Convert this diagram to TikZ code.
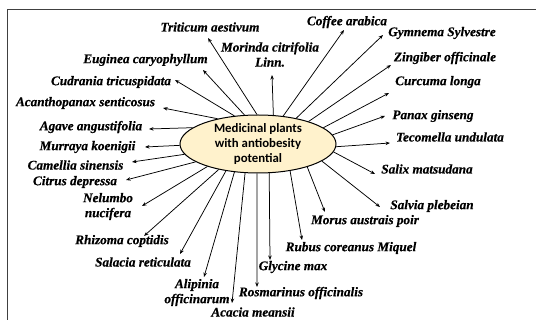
\documentclass[tikz,border=0pt]{standalone}
\usepackage{fontspec}
\setmainfont{Liberation Serif}
\newfontfamily\labfont{Liberation Serif Bold Italic}[FakeBold=0.5]
\newfontfamily\hubfont{Carlito Bold}
\usetikzlibrary{shapes.geometric,arrows.meta}
\definecolor{cream}{RGB}{255,242,204}
\begin{document}
\begin{tikzpicture}[x=1pt,y=-1pt,
  lab/.style={font=\labfont\fontsize{13.2}{15}\selectfont, inner sep=0pt, align=center},
  arr/.style={-{Stealth[length=4.5pt,width=3.5pt]}, line width=0.75pt},
  hub/.style={ellipse, draw, line width=1pt, fill=cream, minimum width=156pt, minimum height=58pt, inner sep=0pt, align=center, font=\hubfont\fontsize{12.8}{15}\selectfont},
  frame/.style={line width=0.8pt, draw=black!75}]
\useasboundingbox (0,0) rectangle (536,320);
\draw[frame] (536,9) -- (7,9) -- (7,320);

% labels
\node[lab] (l1)  at (210,27)    {Triticum aestivum};
\node[lab] (l2)  at (270,54.5)  {Morinda citrifolia\\Linn.};
\node[lab] (l3)  at (347,22)    {Coffee arabica};
\node[lab] (l4)  at (442,33)    {Gymnema Sylvestre};
\node[lab] (l5)  at (445,58)    {Zingiber officinale};
\node[lab] (l6)  at (438,82)    {Curcuma longa};
\node[lab] (l7)  at (433,116)   {Panax ginseng};
\node[lab] (l8)  at (450,137)   {Tecomella undulata};
\node[lab] (l9)  at (427,169)   {Salix matsudana};
\node[lab] (l10) at (432,206)   {Salvia plebeian};
\node[lab] (l11) at (365,221)   {Morus austrais poir};
\node[lab] (l12) at (351,248)   {Rubus coreanus Miquel};
\node[lab] (l13) at (293,267)   {Glycine max};
\node[lab] (l14) at (301,293)   {Rosmarinus officinalis};
\node[lab] (l15) at (253,312)   {Acacia meansii};
\node[lab] (l16) at (197,292.5) {Alipinia\\officinarum};
\node[lab] (l17) at (143,262)   {Salacia reticulata};
\node[lab] (l18) at (122,241)   {Rhizoma coptidis};
\node[lab] (l19) at (108,206.5) {Nelumbo\\nucifera};
\node[lab] (l20) at (75,182)    {Citrus depressa};
\node[lab] (l21) at (75.5,165)  {Camellia sinensis};
\node[lab] (l22) at (87.5,147)  {Murraya koenigii};
\node[lab] (l23) at (91,127)    {Agave angustifolia};
\node[lab] (l24) at (85.5,103)  {Acanthopanax senticosus};
\node[lab] (l25) at (111,82)    {Cudrania tricuspidata};
\node[lab] (l26) at (145.5,60)  {Euginea caryophyllum};

% arrow tips
\coordinate (t1)  at (208,38);
\coordinate (t2)  at (272,75);
\coordinate (t3)  at (344,30);
\coordinate (t4)  at (383,35);
\coordinate (t5)  at (391,65);
\coordinate (t6)  at (389,93);
\coordinate (t7)  at (385,116);
\coordinate (t8)  at (390,143);
\coordinate (t9)  at (375,174);
\coordinate (t10) at (380,207);
\coordinate (t11) at (325,212);
\coordinate (t12) at (302,240);
\coordinate (t13) at (270,260);
\coordinate (t14) at (257,287);
\coordinate (t15) at (232,303);
\coordinate (t16) at (204,277);
\coordinate (t17) at (180,254);
\coordinate (t18) at (144,236);
\coordinate (t19) at (142,206);
\coordinate (t20) at (126,180);
\coordinate (t21) at (132,162);
\coordinate (t22) at (145,147);
\coordinate (t23) at (149,129);
\coordinate (t24) at (163,108);
\coordinate (t25) at (175,80);
\coordinate (t26) at (203,70);

\node[hub] (e) at (258,144) {Medicinal plants\\with antiobesity\\potential};

\draw[arr] (e.92)  -- (t1);
\draw[arr] (e.62)  -- (t2);
\draw[arr] (e.48)  -- (t3);
\draw[arr] (e.34)  -- (t4);
\draw[arr] (e.24)  -- (t5);
\draw[arr] (e.14)  -- (t6);
\draw[arr] (e.7)   -- (t7);
\draw[arr] (e.358) -- (t8);
\draw[arr] (e.354) -- (t9);
\draw[arr] (e.345) -- (t10);
\draw[arr] (e.335) -- (t11);
\draw[arr] (e.320) -- (t12);
\draw[arr] (e.291) -- (t13);
\draw[arr] (e.268) -- (t14);
\draw[arr] (e.246) -- (t15);
\draw[arr] (e.230) -- (t16);
\draw[arr] (e.220) -- (t17);
\draw[arr] (e.213) -- (t18);
\draw[arr] (e.204) -- (t19);
\draw[arr] (e.196) -- (t20);
\draw[arr] (e.188) -- (t21);
\draw[arr] (e.181) -- (t22);
\draw[arr] (e.166) -- (t23);
\draw[arr] (e.148) -- (t24);
\draw[arr] (e.130) -- (t25);
\draw[arr] (e.115) -- (t26);
\end{tikzpicture}
\end{document}
